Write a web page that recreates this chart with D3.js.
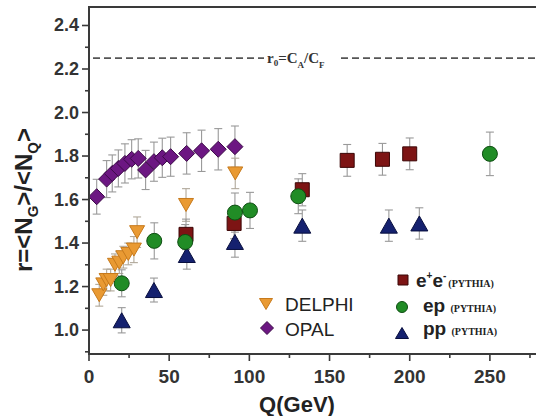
<!DOCTYPE html>
<html>
<head>
<meta charset="utf-8">
<script src="https://cdn.jsdelivr.net/npm/d3@7"></script>
<style>
  body { margin: 0; background: #fff; }
  svg { display: block; }
  .tick-lbl { font-family: "Liberation Sans", Arial, sans-serif; font-weight: bold; fill: #333; }
</style>
</head>
<body>
<div id="chart"></div>
<script>
// --- data ---
var opalQ = [4.8, 11.0, 14.5, 18.3, 22.4, 26.6, 30.7, 35.3, 40.5, 45.7, 50.9, 60.9, 70.2, 80.6, 91.0];
var opalR = [1.613, 1.694, 1.72, 1.743, 1.766, 1.785, 1.789, 1.736, 1.774, 1.792, 1.797, 1.812, 1.824, 1.831, 1.843];
var opalE = [0.08, 0.085, 0.085, 0.085, 0.09, 0.09, 0.09, 0.09, 0.09, 0.09, 0.09, 0.095, 0.095, 0.095, 0.095];

var delphiQ = [6.4, 8.9, 11, 13.5, 16.2, 18.9, 21.4, 24.5, 28, 30, 60.5, 91.2];
var delphiR = [1.16, 1.21, 1.23, 1.23, 1.30, 1.31, 1.335, 1.35, 1.37, 1.45, 1.575, 1.72];
var delphiE = [0.05, 0.05, 0.05, 0.05, 0.05, 0.05, 0.05, 0.05, 0.06, 0.07, 0.075, 0.07];

var eeQ = [60.5, 90.5, 133, 161, 183, 200];
var eeR = [1.44, 1.49, 1.645, 1.78, 1.785, 1.81];
var eeE = [0.07, 0.07, 0.074, 0.073, 0.073, 0.073];

var epQ = [20.4, 40.7, 60, 91, 100.4, 130.5, 250];
var epR = [1.215, 1.41, 1.405, 1.54, 1.55, 1.615, 1.81];
var epE = [0.062, 0.083, 0.08, 0.09, 0.083, 0.08, 0.1];

var ppQ = [20.4, 40.5, 61, 91, 133, 187, 206];
var ppR = [1.045, 1.184, 1.345, 1.405, 1.48, 1.48, 1.49];
var ppE = [0.058, 0.055, 0.065, 0.07, 0.072, 0.072, 0.072];

var r0 = 2.25;
var xTicks = [0, 50, 100, 150, 200, 250];
var xMinor = [25, 75, 125, 175, 225, 275];
var yTicks = [1.0, 1.2, 1.4, 1.6, 1.8, 2.0, 2.2, 2.4];
var yMinor = [0.9, 1.1, 1.3, 1.5, 1.7, 1.9, 2.1, 2.3];

var W = 536, H = 416;
var svg = d3.select("#chart").append("svg")
    .attr("width", W).attr("height", H);

var x = d3.scaleLinear().domain([0, 280]).range([89, 538]);
var y = d3.scaleLinear().domain([0.89, 2.485]).range([354, 7]);

var axisCol = "#3a3a3a";

// dashed r0 line, broken around its label
var yr0 = y(r0);
svg.append("line")
    .attr("x1", x(0) + 4).attr("x2", 264).attr("y1", yr0).attr("y2", yr0)
    .attr("stroke", "#555").attr("stroke-width", 1.6).attr("stroke-dasharray", "7,4");
svg.append("line")
    .attr("x1", 341).attr("x2", W).attr("y1", yr0).attr("y2", yr0)
    .attr("stroke", "#555").attr("stroke-width", 1.6).attr("stroke-dasharray", "7,4");

var lbl = svg.append("text")
    .attr("x", 267).attr("y", yr0 + 5)
    .style("font-family", "'Liberation Serif', 'Times New Roman', serif")
    .style("font-weight", "bold").style("font-size", "15px").attr("fill", "#333");
lbl.append("tspan").text("r");
lbl.append("tspan").attr("dy", 3).style("font-size", "9px").text("0");
lbl.append("tspan").attr("dy", -3).text("=C");
lbl.append("tspan").attr("dy", 5).style("font-size", "9px").text("A");
lbl.append("tspan").attr("dy", -5).text("/C");
lbl.append("tspan").attr("dy", 5).style("font-size", "9px").text("F");

// error bars
function errBars(Q, R, E, col) {
    var g = svg.append("g").attr("stroke", col).attr("stroke-width", 1.1).attr("fill", "none");
    Q.forEach(function(q, i) {
        var cx = x(q), lo = y(R[i] - E[i]), hi = y(R[i] + E[i]);
        g.append("line").attr("x1", cx).attr("x2", cx).attr("y1", lo).attr("y2", hi);
        g.append("line").attr("x1", cx - 4).attr("x2", cx + 4).attr("y1", lo).attr("y2", lo);
        g.append("line").attr("x1", cx - 4).attr("x2", cx + 4).attr("y1", hi).attr("y2", hi);
    });
}

// marker shapes centred on their bounding box
function triPath(w, h, down) {
    var s = down ? -1 : 1;
    return "M0," + (-s * h / 2) + "L" + (w / 2) + "," + (s * h / 2) + "L" + (-w / 2) + "," + (s * h / 2) + "Z";
}
function diamondPath(w) {
    var a = w / 2;
    return "M0," + (-a) + "L" + a + ",0L0," + a + "L" + (-a) + ",0Z";
}
function squarePath(w) {
    var a = w / 2;
    return "M" + (-a) + "," + (-a) + "h" + w + "v" + w + "h" + (-w) + "Z";
}
function circlePath(w) {
    var a = w / 2;
    return "M" + (-a) + ",0a" + a + "," + a + " 0 1,0 " + w + ",0a" + a + "," + a + " 0 1,0 " + (-w) + ",0Z";
}

function markers(Q, R, d, fill, stroke) {
    svg.append("g").selectAll("path")
        .data(Q.map(function(q, i) { return [q, R[i]]; }))
        .enter().append("path")
        .attr("d", d)
        .attr("transform", function(p) { return "translate(" + x(p[0]) + "," + y(p[1]) + ")"; })
        .attr("fill", fill).attr("stroke", stroke).attr("stroke-width", 1);
}

var cOpal = "#6c1782", sOpal = "#3c0b48";
var cDel = "#e99a33", sDel = "#c77a1c";
var cEe = "#7d1414", sEe = "#3b0606";
var cEp = "#218c26", sEp = "#0e4d12";
var cPp = "#15216f", sPp = "#080e3e";

errBars(opalQ, opalR, opalE, "#999");
errBars(delphiQ, delphiR, delphiE, "#b0a89a");
errBars(eeQ, eeR, eeE, "#999");
errBars(epQ, epR, epE, "#999");
errBars(ppQ, ppR, ppE, "#999");

markers(eeQ, eeR, squarePath(14), cEe, sEe);
markers(ppQ, ppR, triPath(17, 15, false), cPp, sPp);
markers(epQ, epR, circlePath(15), cEp, sEp);
markers(delphiQ, delphiR, triPath(15, 13, true), cDel, sDel);
markers(opalQ, opalR, diamondPath(16), cOpal, sOpal);

// axes
svg.append("line").attr("x1", 89).attr("x2", W).attr("y1", 7).attr("y2", 7)
    .attr("stroke", axisCol).attr("stroke-width", 2);
svg.append("line").attr("x1", 89).attr("x2", 89).attr("y1", 6).attr("y2", 355)
    .attr("stroke", axisCol).attr("stroke-width", 2);
svg.append("line").attr("x1", 88).attr("x2", W).attr("y1", 354).attr("y2", 354)
    .attr("stroke", axisCol).attr("stroke-width", 2);

var tk = svg.append("g").attr("stroke", axisCol).attr("stroke-width", 1.6);
yTicks.forEach(function(v) {
    tk.append("line").attr("x1", 82).attr("x2", 89).attr("y1", y(v)).attr("y2", y(v));
});
yMinor.forEach(function(v) {
    tk.append("line").attr("x1", 85).attr("x2", 89).attr("y1", y(v)).attr("y2", y(v));
});
xTicks.forEach(function(v) {
    tk.append("line").attr("x1", x(v)).attr("x2", x(v)).attr("y1", 354).attr("y2", 361);
});
xMinor.forEach(function(v) {
    tk.append("line").attr("x1", x(v)).attr("x2", x(v)).attr("y1", 354).attr("y2", 358);
});

svg.append("g").selectAll("text").data(yTicks).enter().append("text")
    .attr("class", "tick-lbl")
    .attr("x", 79).attr("y", function(v) { return y(v) + 6; })
    .attr("text-anchor", "end").style("font-size", "18px")
    .text(function(v) { return v.toFixed(1); });

svg.append("g").selectAll("text").data(xTicks).enter().append("text")
    .attr("class", "tick-lbl")
    .attr("x", function(v) { return x(v); }).attr("y", 383)
    .attr("text-anchor", "middle").style("font-size", "19px")
    .text(function(v) { return v; });

// axis titles
svg.append("text")
    .attr("x", 297).attr("y", 412).attr("text-anchor", "middle")
    .style("font-family", "'Liberation Sans', Arial, sans-serif")
    .style("font-weight", "bold").style("font-size", "22px").attr("fill", "#222")
    .text("Q(GeV)");

var yt = svg.append("text")
    .attr("transform", "translate(32,200) rotate(-90)")
    .attr("text-anchor", "middle")
    .style("font-family", "'Liberation Sans', Arial, sans-serif")
    .style("font-weight", "bold").style("font-size", "24px").attr("fill", "#222");
yt.append("tspan").text("r=<N");
yt.append("tspan").attr("dy", 6).style("font-size", "15px").text("G");
yt.append("tspan").attr("dy", -6).text(">/<N");
yt.append("tspan").attr("dy", 6).style("font-size", "15px").text("Q");
yt.append("tspan").attr("dy", -6).text(">");

// legend, experiments
var legFont = "'Liberation Sans', Arial, sans-serif";
svg.append("path").attr("d", triPath(13, 11, true))
    .attr("transform", "translate(266,304)").attr("fill", cDel).attr("stroke", sDel);
svg.append("path").attr("d", diamondPath(13))
    .attr("transform", "translate(267,328)").attr("fill", cOpal).attr("stroke", sOpal);
svg.append("text").attr("x", 285).attr("y", 311)
    .style("font-family", legFont).style("font-size", "19px").attr("fill", "#222").text("DELPHI");
svg.append("text").attr("x", 285).attr("y", 336)
    .style("font-family", legFont).style("font-size", "19px").attr("fill", "#222").text("OPAL");

// legend, PYTHIA samples
var serif = "'Liberation Serif', 'Times New Roman', serif";
svg.append("path").attr("d", squarePath(10))
    .attr("transform", "translate(403,280)").attr("fill", cEe).attr("stroke", sEe);
svg.append("path").attr("d", circlePath(11))
    .attr("transform", "translate(402,307)").attr("fill", cEp).attr("stroke", sEp);
svg.append("path").attr("d", triPath(13, 11, false))
    .attr("transform", "translate(402,333)").attr("fill", cPp).attr("stroke", sPp);

var t1 = svg.append("text").attr("x", 416).attr("y", 287)
    .style("font-family", legFont).style("font-weight", "bold").style("font-size", "19px").attr("fill", "#222");
t1.append("tspan").text("e");
t1.append("tspan").attr("dy", -8).style("font-size", "10px").text("+");
t1.append("tspan").attr("dy", 8).text("e");
t1.append("tspan").attr("dy", -8).style("font-size", "10px").text("-");
t1.append("tspan").attr("dy", 8).attr("dx", 2).style("font-family", serif).style("font-size", "10px").text("(PYTHIA)");

var t2 = svg.append("text").attr("x", 423).attr("y", 312)
    .style("font-family", legFont).style("font-weight", "bold").style("font-size", "19px").attr("fill", "#222");
t2.append("tspan").text("ep ");
t2.append("tspan").style("font-family", serif).style("font-size", "10px").text("(PYTHIA)");

var t3 = svg.append("text").attr("x", 423).attr("y", 335)
    .style("font-family", legFont).style("font-weight", "bold").style("font-size", "19px").attr("fill", "#222");
t3.append("tspan").text("pp ");
t3.append("tspan").style("font-family", serif).style("font-size", "10px").text("(PYTHIA)");
</script>
</body>
</html>
